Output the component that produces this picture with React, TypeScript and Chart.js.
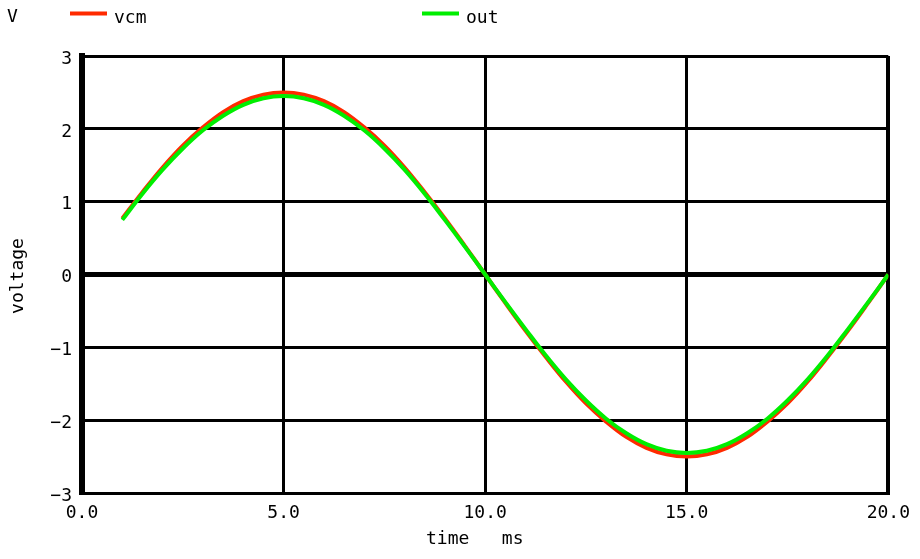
import React, { useEffect, useRef } from "react";
import { Chart, registerables } from "chart.js";

Chart.register(...registerables);

const TIME_MS = [
  1, 1.5, 2, 2.5, 3, 3.5, 4, 4.5, 5, 5.5, 6, 6.5, 7, 7.5, 8, 8.5, 9, 9.5, 10,
  10.5, 11, 11.5, 12, 12.5, 13, 13.5, 14, 14.5, 15, 15.5, 16, 16.5, 17, 17.5,
  18, 18.5, 19, 19.5, 20,
];
const VCM = [
  0.77, 1.13, 1.47, 1.77, 2.02, 2.23, 2.38, 2.47, 2.5, 2.47, 2.38, 2.23, 2.02,
  1.77, 1.47, 1.13, 0.77, 0.39, 0.0, -0.39, -0.77, -1.13, -1.47, -1.77, -2.02,
  -2.23, -2.38, -2.47, -2.5, -2.47, -2.38, -2.23, -2.02, -1.77, -1.47, -1.13,
  -0.77, -0.39, 0.0,
];
const OUT = [
  0.75, 1.11, 1.44, 1.73, 1.98, 2.18, 2.33, 2.42, 2.45, 2.42, 2.33, 2.18, 1.98,
  1.73, 1.44, 1.11, 0.75, 0.38, 0.0, -0.38, -0.75, -1.11, -1.44, -1.73, -1.98,
  -2.18, -2.33, -2.42, -2.45, -2.42, -2.33, -2.18, -1.98, -1.73, -1.44, -1.11,
  -0.75, -0.38, 0.0,
];
const X_TICKS = [0, 5, 10, 15, 20];
const Y_TICKS = [-3, -2, -1, 0, 1, 2, 3];
const SERIES_NAMES = ["vcm", "out"];
const Y_UNIT = "V";
const Y_TITLE = "voltage";
const X_TITLE = "time   ms";

const FONT = "'DejaVu Sans Mono', monospace";

const overlay = {
  id: "overlay",
  afterDraw(chart: any) {
    const ctx = chart.ctx;
    ctx.save();
    ctx.fillStyle = "#000";
    ctx.font = `18px ${FONT}`;
    ctx.textBaseline = "middle";
    ctx.textAlign = "left";
    ctx.fillText(Y_UNIT, 7, 17);
    // legend
    const items = [
      { x: 70, color: "#ff2a00", label: SERIES_NAMES[0] },
      { x: 422, color: "#00ee00", label: SERIES_NAMES[1] },
    ];
    for (const it of items) {
      ctx.strokeStyle = it.color;
      ctx.lineWidth = 4;
      ctx.beginPath();
      ctx.moveTo(it.x, 13.5);
      ctx.lineTo(it.x + 37, 13.5);
      ctx.stroke();
      ctx.fillText(it.label, it.x + 44, 18);
    }
    // y tick labels (positioned through the library's y scale)
    const ys = chart.scales.y;
    ctx.textAlign = "right";
    for (const v of Y_TICKS) {
      const label = String(v).replace("-", "\u2212");
      ctx.fillText(label, ys.right - 10, ys.getPixelForValue(v) + 3);
    }
    // x title
    ctx.textAlign = "left";
    ctx.fillText(X_TITLE, 426, 539);
    // y title
    ctx.translate(18, 276);
    ctx.rotate(-Math.PI / 2);
    ctx.textAlign = "center";
    ctx.fillText(Y_TITLE, 0, 0);
    ctx.restore();
  },
};

export default function App() {
  const ref = useRef<HTMLCanvasElement>(null);
  useEffect(() => {
    const chart = new Chart(ref.current as HTMLCanvasElement, {
      type: "line",
      data: {
        datasets: [
          {
            label: SERIES_NAMES[0],
            data: TIME_MS.map((t, i) => ({ x: t, y: VCM[i] })),
            borderColor: "#ff2a00",
            borderWidth: 4,
            pointRadius: 0,
            tension: 0.4,
            order: 2,
          },
          {
            label: SERIES_NAMES[1],
            data: TIME_MS.map((t, i) => ({ x: t, y: OUT[i] })),
            borderColor: "#00ee00",
            borderWidth: 4,
            pointRadius: 0,
            tension: 0.4,
            order: 1,
          },
        ],
      },
      options: {
        animation: false,
        responsive: false,
        devicePixelRatio: 1,
        layout: { padding: { left: 0, top: 56, right: 31, bottom: 0 } },
        plugins: { legend: { display: false }, tooltip: { enabled: false } },
        scales: {
          x: {
            type: "linear",
            min: 0,
            max: 20,
            afterFit: (s: any) => {
              s.height = 66;
            },
            afterBuildTicks: (s: any) => {
              s.ticks = X_TICKS.map((v) => ({ value: v }));
            },
            ticks: {
              color: "#000",
              font: { family: FONT, size: 18 },
              padding: 10,
              maxRotation: 0,
              autoSkip: false,
              callback: (v: any) => Number(v).toFixed(1),
            },
            grid: {
              color: "#000",
              drawTicks: false,
              lineWidth: (c: any) =>
                c.tick && c.tick.value === 20 ? 4 : 3,
            },
            border: { color: "#000", width: 3 },
          },
          y: {
            type: "linear",
            min: -3,
            max: 3,
            afterFit: (s: any) => {
              s.width = 82;
            },
            afterBuildTicks: (s: any) => {
              s.ticks = Y_TICKS.map((v) => ({ value: v }));
            },
            ticks: {
              display: false,
              autoSkip: false,
            },
            grid: {
              color: "#000",
              drawTicks: false,
              lineWidth: (c: any) =>
                c.tick && c.tick.value === 0 ? 5 : 3,
            },
            border: { color: "#000", width: 6 },
          },
        },
      },
      plugins: [overlay],
    });
    return () => chart.destroy();
  }, []);
  return (
    <div style={{ position: "absolute", left: 0, top: 0, width: 920, height: 559, background: "#fff" }}>
      <canvas ref={ref} width={920} height={559} style={{ width: 920, height: 559 }} />
    </div>
  );
}
